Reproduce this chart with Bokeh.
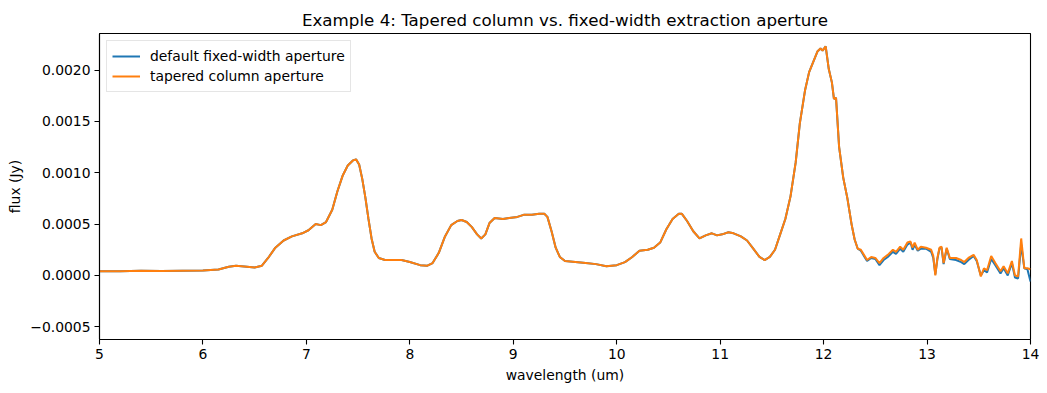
from bokeh.plotting import figure
from bokeh.models import FixedTicker, CustomJSTickFormatter, Legend, LegendItem, Range1d
from bokeh.embed import file_html
from bokeh.resources import INLINE

# ---- data ----
# smooth part, identical for both apertures
wl_smooth = [5.00, 5.20, 5.40, 5.60, 5.80, 6.00, 6.15, 6.25, 6.32, 6.40, 6.50, 6.57, 6.63, 6.70,
             6.78, 6.86, 6.96, 7.02, 7.09, 7.14, 7.19, 7.25, 7.30, 7.35, 7.40, 7.45, 7.48, 7.51,
             7.54, 7.57, 7.60, 7.63, 7.66, 7.70, 7.76, 7.85, 7.92, 8.00, 8.10, 8.17, 8.22, 8.28,
             8.34, 8.40, 8.46, 8.50, 8.55, 8.60, 8.65, 8.69, 8.73, 8.77, 8.82, 8.90, 8.96, 9.04,
             9.10, 9.18, 9.25, 9.30, 9.33, 9.37, 9.41, 9.45, 9.50, 9.60, 9.70, 9.80, 9.90, 10.00,
             10.08, 10.15, 10.22, 10.30, 10.36, 10.42, 10.48, 10.54, 10.60, 10.63, 10.68, 10.74,
             10.80, 10.86, 10.92, 10.97, 11.02, 11.08, 11.13, 11.20, 11.26, 11.32, 11.38, 11.43,
             11.48, 11.53, 11.58, 11.63, 11.68, 11.73, 11.77, 11.82, 11.86, 11.90, 11.94, 11.97,
             11.99, 12.02, 12.05, 12.08, 12.10, 12.12, 12.15, 12.19, 12.23, 12.27, 12.30]
flux_smooth = [0.000040, 0.000040, 0.000046, 0.000044, 0.000046, 0.000048, 0.000058, 0.000085,
               0.000095, 0.000088, 0.000078, 0.000095, 0.00017, 0.00027, 0.00034, 0.00038,
               0.00041, 0.00044, 0.00050, 0.00049, 0.00052, 0.00064, 0.00082, 0.00097, 0.00107,
               0.00112, 0.00113, 0.00108, 0.00094, 0.00076, 0.00055, 0.00036, 0.00023, 0.00017,
               0.00015, 0.00015, 0.00015, 0.00013, 0.00010, 0.000095, 0.00012, 0.00022, 0.00038,
               0.00049, 0.00053, 0.00054, 0.00052, 0.00047, 0.00040, 0.00036, 0.00040, 0.00051,
               0.00056, 0.00055, 0.00056, 0.00057, 0.00059, 0.00059, 0.00060, 0.00060, 0.00057,
               0.00043, 0.00027, 0.00018, 0.00014, 0.00013, 0.00012, 0.00011, 0.00009, 0.00010,
               0.00013, 0.00018, 0.00024, 0.00025, 0.00027, 0.00032, 0.00045, 0.00055, 0.00060,
               0.00060, 0.00053, 0.00043, 0.00036, 0.00039, 0.00041, 0.00039, 0.00040, 0.00042,
               0.00041, 0.00038, 0.00034, 0.00026, 0.00018, 0.00015, 0.00018, 0.00025, 0.00040,
               0.00055, 0.00077, 0.00110, 0.00148, 0.00180, 0.00198, 0.00208, 0.00218, 0.00221,
               0.00219, 0.00223, 0.00201, 0.00188, 0.00172, 0.00173, 0.00125, 0.00095, 0.00075,
               0.00050, 0.00035]

# noisy long-wavelength part, where the two apertures differ slightly
wl_noisy = [12.33, 12.36, 12.39, 12.42, 12.46, 12.50, 12.54, 12.58, 12.62, 12.67, 12.70, 12.74,
            12.77, 12.81, 12.84, 12.86, 12.88, 12.91, 12.94, 12.99, 13.04, 13.06, 13.08, 13.10,
            13.12, 13.14, 13.16, 13.19, 13.22, 13.28, 13.33, 13.36, 13.40, 13.45, 13.48, 13.52,
            13.55, 13.58, 13.62, 13.66, 13.71, 13.74, 13.78, 13.82, 13.85, 13.88, 13.91, 13.94,
            13.97, 14.00]
flux_noisy_fixed = [0.00026, 0.00024, 0.00019, 0.00014, 0.00017, 0.00016, 0.00010, 0.00015,
                    0.00018, 0.00023, 0.00021, 0.00026, 0.00023, 0.00030, 0.00032, 0.00025,
                    0.00030, 0.00024, 0.00026, 0.00026, 0.00023, 0.00017, 0.00001, 0.00016,
                    0.00026, 0.00027, 0.00011, 0.00026, 0.00016, 0.00015, 0.00013, 0.00011,
                    0.00015, 0.00019, 0.00014, 0.00000, 0.00005, 0.00003, 0.00016, 0.00010,
                    0.00002, 0.00007, 0.00000, 0.00012, -0.00002, -0.00003, 0.00030, 0.00007,
                    0.00006, -0.00006]
flux_noisy_tapered = [0.00026, 0.00025, 0.00020, 0.00015, 0.00018, 0.00017, 0.00012, 0.00017,
                      0.00020, 0.00025, 0.00023, 0.00028, 0.00025, 0.00032, 0.00033, 0.00027,
                      0.00032, 0.00025, 0.00028, 0.00027, 0.00025, 0.00019, 0.00000, 0.00017,
                      0.00027, 0.00028, 0.00012, 0.00027, 0.00017, 0.00017, 0.00015, 0.00013,
                      0.00017, 0.00020, 0.00015, -0.00001, 0.00007, 0.00005, 0.00019, 0.00012,
                      0.00004, 0.00009, 0.00002, 0.00014, 0.00000, -0.00001, 0.00036, 0.00007,
                      0.00007, 0.00006]

y_ticks = [-0.0005, 0.0, 0.0005, 0.0010, 0.0015, 0.0020]
x_ticks = [5, 6, 7, 8, 9, 10, 11, 12, 13, 14]
labels = ["default fixed-width aperture", "tapered column aperture"]
colors = ["#1f77b4", "#ff7f0e"]

wl = wl_smooth + wl_noisy
flux_fixed = flux_smooth + flux_noisy_fixed
flux_tapered = flux_smooth + flux_noisy_tapered

FONT = "DejaVu Sans"

p = figure(width=1039, height=385, output_backend="svg", toolbar_location=None,
           x_range=Range1d(5, 14), y_range=Range1d(-0.000624, 0.002356),
           title="Example 4: Tapered column vs. fixed-width extraction aperture",
           min_border_left=99, min_border_right=9, min_border_top=33, min_border_bottom=45)

p.title.align = "center"
p.title.text_font = FONT
p.title.text_font_size = "16.7px"
p.title.text_font_style = "normal"
p.title.text_color = "black"
p.title.offset = 0
p.title.standoff = 8

p.xgrid.visible = False
p.ygrid.visible = False
p.outline_line_color = "black"
p.outline_line_width = 1.1
p.outline_line_alpha = 1

for ax in (p.xaxis[0], p.yaxis[0]):
    ax.major_tick_in = 0
    ax.major_tick_out = 5
    ax.minor_tick_in = 0
    ax.minor_tick_out = 0
    ax.axis_line_color = "black"
    ax.axis_line_width = 1.1
    ax.major_tick_line_color = "black"
    ax.major_tick_line_width = 1.1
    ax.major_label_text_font = FONT
    ax.major_label_text_font_size = "13.9px"
    ax.major_label_text_color = "black"
    ax.axis_label_text_font = FONT
    ax.axis_label_text_font_size = "13.9px"
    ax.axis_label_text_font_style = "normal"
    ax.axis_label_text_color = "black"
    ax.major_label_standoff = 4

p.xaxis.ticker = FixedTicker(ticks=x_ticks)
p.yaxis.ticker = FixedTicker(ticks=y_ticks)
p.yaxis.formatter = CustomJSTickFormatter(
    code="return (tick < 0 ? '\\u2212' : '') + Math.abs(tick).toFixed(4);")
p.xaxis.axis_label = "wavelength (um)"
p.yaxis.axis_label = "flux (Jy)"
p.xaxis.axis_label_standoff = 5
p.yaxis.axis_label_standoff = 4

r1 = p.line(wl, flux_fixed, line_color=colors[0], line_width=2)
r2 = p.line(wl, flux_tapered, line_color=colors[1], line_width=2)

legend = Legend(items=[LegendItem(label=labels[0], renderers=[r1]),
                       LegendItem(label=labels[1], renderers=[r2])],
                location="top_left")
legend.margin = 7
legend.padding = 5
legend.spacing = 0
legend.glyph_width = 28
legend.glyph_height = 20
legend.label_height = 20
legend.label_standoff = 10
legend.label_text_font = FONT
legend.label_text_font_size = "13.9px"
legend.label_text_color = "black"
legend.border_line_color = "#cccccc"
legend.border_line_width = 1
legend.background_fill_color = "white"
legend.background_fill_alpha = 0.8
p.add_layout(legend)

open("out.html", "w").write(file_html(p, INLINE))
